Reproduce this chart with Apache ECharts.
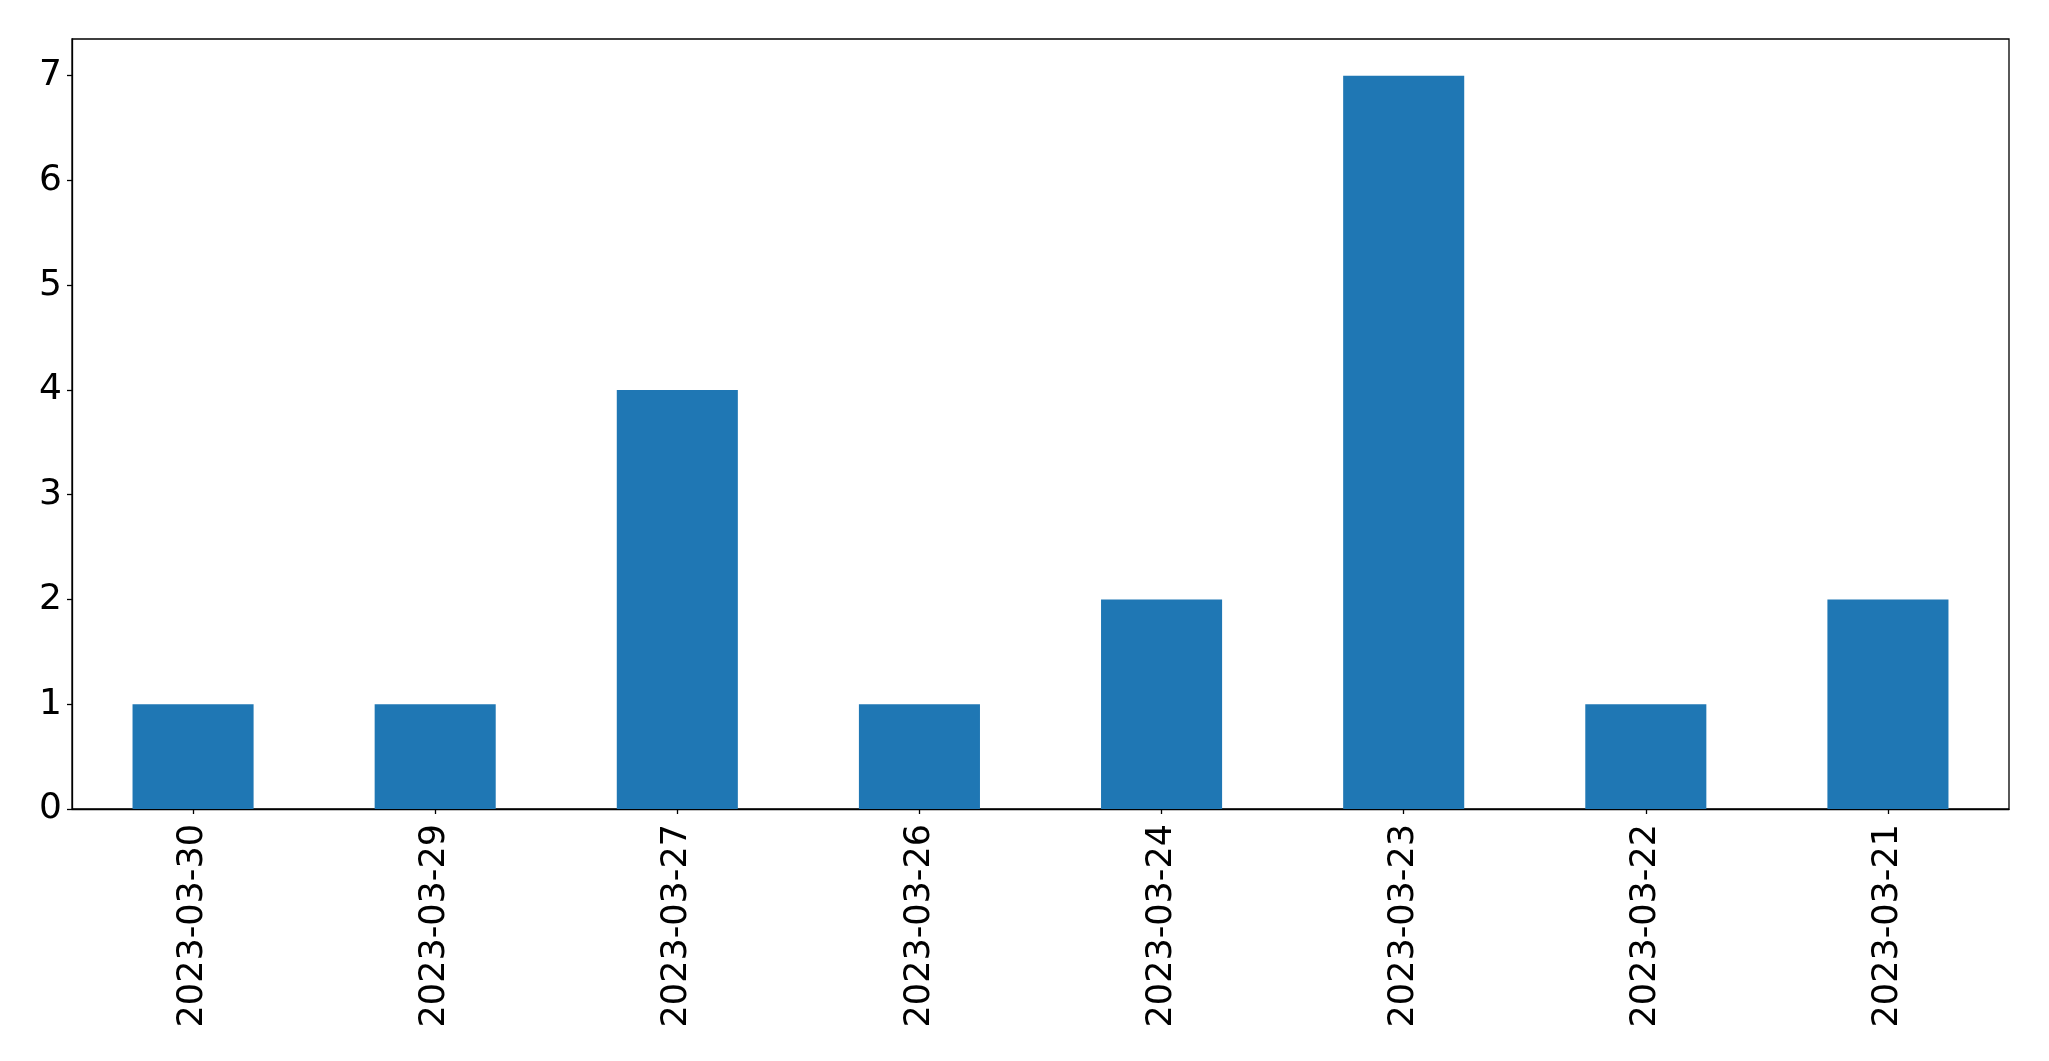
<!DOCTYPE html>
<html>
<head>
<meta charset="utf-8">
<script src="https://cdn.jsdelivr.net/npm/echarts@6/dist/echarts.min.js"></script>
<style>
html,body{margin:0;padding:0;background:#fff;}
#chart{width:2049px;height:1061px;}
</style>
</head>
<body>
<div id="chart"></div>
<script>
const categories = ["2023-03-30","2023-03-29","2023-03-27","2023-03-26","2023-03-24","2023-03-23","2023-03-22","2023-03-21"];
const values = [1, 1, 4, 1, 2, 7, 1, 2];
const yTicks = [0, 1, 2, 3, 4, 5, 6, 7];

const chart = echarts.init(document.getElementById('chart'), null, {renderer: 'canvas'});
const font = 'DejaVu Sans';
chart.setOption({
  animation: false,
  backgroundColor: '#ffffff',
  grid: {
    left: 72, top: 39, right: 40, bottom: 252,
    show: true, borderColor: '#000000', borderWidth: 1.3, backgroundColor: 'transparent'
  },
  xAxis: {
    type: 'category',
    data: categories,
    axisLine: {show: true, lineStyle: {color: '#000000', width: 1.3}},
    axisTick: {show: true, alignWithLabel: true, length: 5, lineStyle: {color: '#000000', width: 1.3}},
    axisLabel: {
      rotate: 90, interval: 0, margin: 15,
      color: '#000000', fontFamily: font, fontSize: 35
    },
    splitLine: {show: false}
  },
  yAxis: {
    type: 'value',
    min: 0, max: 7.35, interval: 1,
    axisLine: {show: true, lineStyle: {color: '#000000', width: 1.3}},
    axisTick: {show: true, length: 5, lineStyle: {color: '#000000', width: 1.3}},
    axisLabel: {
      color: '#000000', fontFamily: font, fontSize: 36, margin: 10,
      showMaxLabel: false,
      formatter: function (v) { return yTicks.indexOf(v) >= 0 ? String(v) : ''; }
    },
    splitLine: {show: false}
  },
  series: [{
    type: 'bar',
    data: values,
    barWidth: '50%',
    itemStyle: {color: '#1f77b4'}
  }]
});
</script>
</body>
</html>
